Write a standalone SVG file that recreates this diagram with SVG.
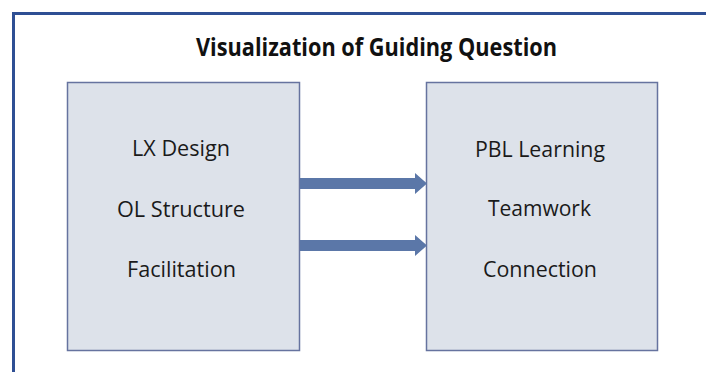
<svg xmlns="http://www.w3.org/2000/svg" width="706" height="372" viewBox="0 0 706 372">
<style>
.box{fill:#dde2ea;stroke:#66739f;stroke-width:1.5}
.lbl{font-family:"Open Sans","Liberation Sans",sans-serif;font-size:21px;fill:#1a1a1a;text-anchor:middle}
.title{font-family:"Open Sans","Liberation Sans",sans-serif;font-size:25px;font-weight:bold;fill:#111;text-anchor:middle}
.arr{fill:#5b77a8}
</style>
<rect x="0" y="0" width="706" height="372" fill="#ffffff"/>
<path d="M13.5 372 V13.5 H706" fill="none" stroke="#2f4f94" stroke-width="3"/>
<text class="title" x="376.5" y="56" textLength="361" lengthAdjust="spacingAndGlyphs">Visualization of Guiding Question</text>
<g id="left">
<rect class="box" x="67.5" y="82.5" width="232" height="268"/>
<text class="lbl" x="181" y="156" textLength="98" lengthAdjust="spacingAndGlyphs">LX Design</text>
<text class="lbl" x="181" y="217" textLength="128" lengthAdjust="spacingAndGlyphs">OL Structure</text>
<text class="lbl" x="181.5" y="277" textLength="109" lengthAdjust="spacingAndGlyphs">Facilitation</text>
</g>
<g id="right">
<rect class="box" x="426.5" y="82.5" width="231" height="268"/>
<text class="lbl" x="540" y="157" textLength="130" lengthAdjust="spacingAndGlyphs">PBL Learning</text>
<text class="lbl" x="539.5" y="216" textLength="103" lengthAdjust="spacingAndGlyphs">Teamwork</text>
<text class="lbl" x="540" y="277" textLength="114" lengthAdjust="spacingAndGlyphs">Connection</text>
</g>
<g id="connectors">
<polygon class="arr" points="300,178 415,178 415,173 427,183.5 415,194 415,189 300,189"/>
<polygon class="arr" points="300,240 415,240 415,235 427,245.5 415,256 415,251 300,251"/>
</g>
</svg>
